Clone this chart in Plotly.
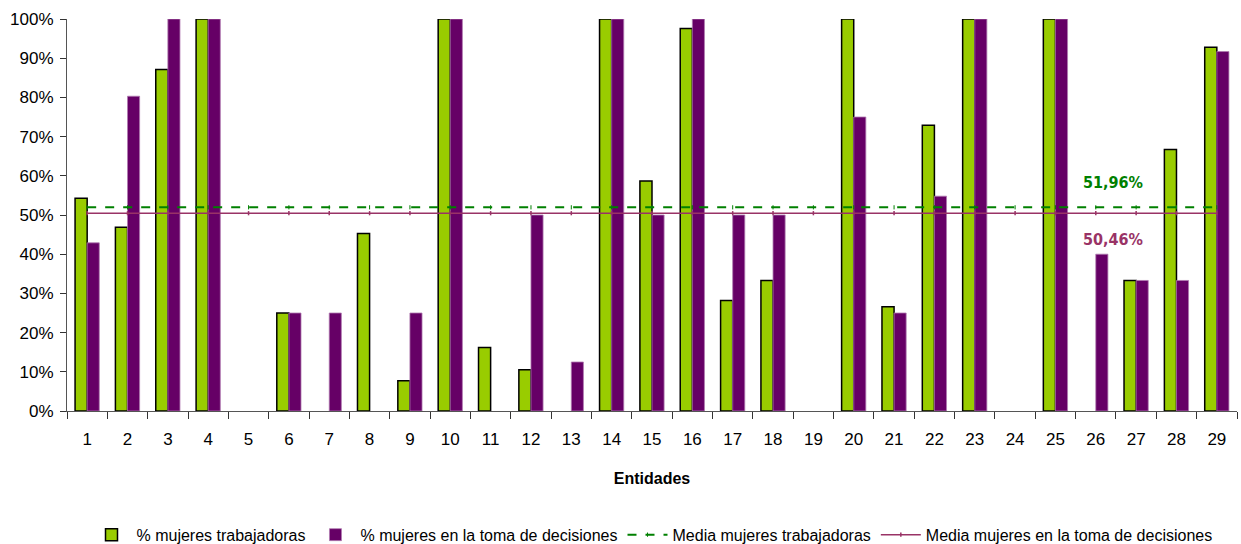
import plotly.graph_objects as go

entidades = [str(i) for i in range(1, 30)]
trabajadoras = [54.3, 46.9, 87.1, 100, 0, 25.0, 0, 45.3, 7.7, 100,
                16.2, 10.5, 0, 100, 58.7, 97.6, 28.2, 33.3, 0, 100,
                26.6, 72.9, 100, 0, 100, 0, 33.3, 66.7, 92.8]
decisiones = [42.9, 80.3, 100, 100, 0, 25.0, 25.0, 0, 25.0, 100,
              0, 50.0, 12.5, 100, 50.0, 100, 50.0, 50.0, 0, 75.0,
              25.0, 54.8, 100, 0, 100, 40.0, 33.3, 33.3, 91.7]
media_trabajadoras = 51.96
media_decisiones = 50.46
yticks = [0, 10, 20, 30, 40, 50, 60, 70, 80, 90, 100]

GREEN = "#99CC00"
PURPLE = "#660066"
MGREEN = "#008000"
MPURPLE = "#993366"
FONT = "Liberation Sans, Arial, sans-serif"


def frac(vals):
    # zero-height bars are not drawn in the original
    return [v / 100 if v else None for v in vals]


fig = go.Figure()
fig.add_trace(go.Bar(
    x=entidades, y=frac(trabajadoras), name="% mujeres trabajadoras",
    marker=dict(color=GREEN, line=dict(color="black", width=1.5))))
fig.add_trace(go.Bar(
    x=entidades, y=frac(decisiones), name="% mujeres en la toma de decisiones",
    marker=dict(color=PURPLE, line=dict(color="#b07ab0", width=0.8))))
fig.add_trace(go.Scatter(
    x=entidades, y=[media_trabajadoras / 100] * len(entidades), name="Media mujeres trabajadoras",
    mode="lines+markers", line=dict(color=MGREEN, width=2, dash="dash"),
    marker=dict(symbol="line-ns", size=3, line=dict(color=MGREEN, width=1))))
fig.add_trace(go.Scatter(
    x=entidades, y=[media_decisiones / 100] * len(entidades), name="Media mujeres en la toma de decisiones",
    mode="lines+markers", line=dict(color=MPURPLE, width=1.5),
    marker=dict(symbol="line-ns", size=3, line=dict(color=MPURPLE, width=1.5))))

fig.add_annotation(x=25.43, y=media_trabajadoras / 100, yshift=25, xref="x", yref="y",
                   text="<b>51,96%</b>", showarrow=False,
                   font=dict(family="DejaVu Sans Condensed, DejaVu Sans", size=16, color=MGREEN))
fig.add_annotation(x=25.43, y=media_decisiones / 100, yshift=-26, xref="x", yref="y",
                   text="<b>50,46%</b>", showarrow=False,
                   font=dict(family="DejaVu Sans Condensed, DejaVu Sans", size=16, color=MPURPLE))

fig.update_layout(
    width=1241, height=544,
    margin=dict(l=67, r=4, t=19, b=133, autoexpand=False),
    paper_bgcolor="white", plot_bgcolor="white",
    barmode="group", bargap=0.4, bargroupgap=0,
    font=dict(family=FONT, size=17, color="black"),
    showlegend=True,
    legend=dict(orientation="h", x=0.5, xanchor="center",
                yref="container", y=0.017, yanchor="middle", font=dict(size=16),
                traceorder="normal", itemwidth=40, tracegroupgap=0),
)
fig.update_xaxes(
    type="category", range=[-0.5, 28.5], showline=True, linecolor="#555555", linewidth=1,
    ticks="outside", tickson="boundaries", ticklen=7, tickcolor="#333333",
    tickfont=dict(size=17), ticklabelstandoff=13, showgrid=False,
    title=dict(text="<b>Entidades</b>", font=dict(size=16), standoff=24))
fig.update_yaxes(
    range=[0, 1], tickvals=[v / 100 for v in yticks], ticktext=[f"{v}%" for v in yticks],
    showline=True, linecolor="#555555", linewidth=1, ticks="outside", ticklen=6,
    tickcolor="#333333", showgrid=False, zeroline=False, tickfont=dict(size=17),
    ticklabelstandoff=3)

fig.write_html("out.html", config={"displayModeBar": False},
               post_script="document.body.style.margin='0';")
